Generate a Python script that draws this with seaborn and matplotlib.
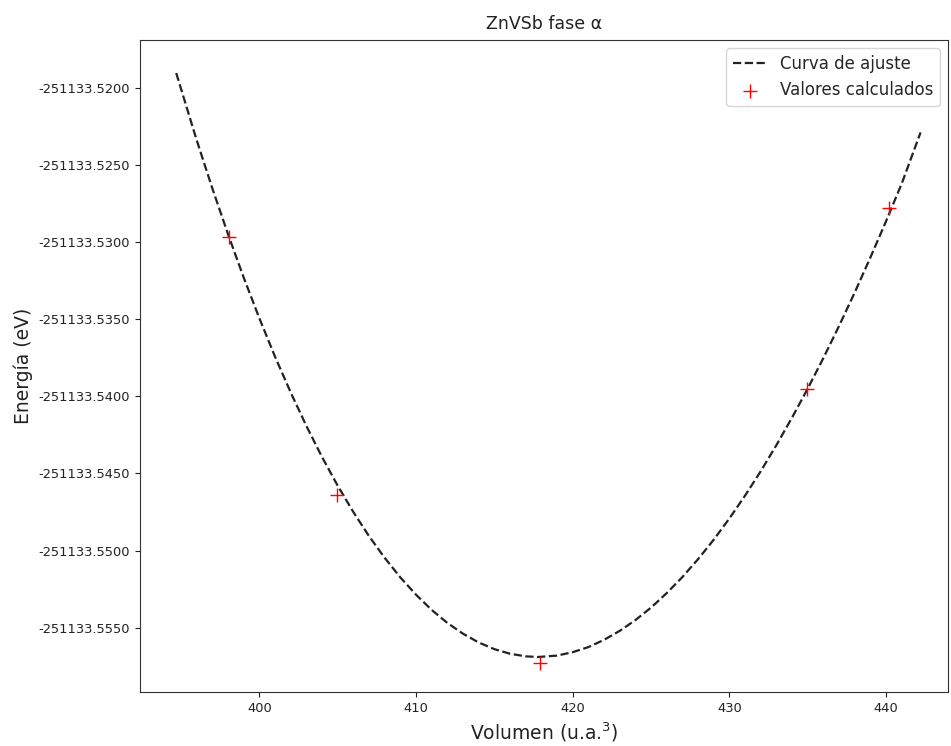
import matplotlib
matplotlib.use("Agg")
import matplotlib.pyplot as plt
import matplotlib.ticker as mticker
import pandas as pd
import numpy as np
import seaborn as sns

# valores calculados (puntos rojos)
vol_calc = [398.07, 404.96, 417.91, 434.95, 440.19]
ener_calc = [-251133.5297, -251133.5464, -251133.5573, -251133.5395, -251133.5278]

# curva de ajuste
vol_fit = [394.7, 396, 397, 398, 399, 400, 401, 402, 403, 404, 405, 406, 407, 408,
           409, 410, 411, 412, 413, 414, 415, 416, 417, 417.8, 419, 420, 421, 422,
           423, 424, 425, 426, 427, 428, 429, 430, 431, 432, 433, 434, 435, 436,
           437, 438, 439, 440, 441, 442.2]
ener_fit = [-251133.51905, -251133.52338, -251133.52651, -251133.52948, -251133.53229,
            -251133.53493, -251133.53742, -251133.53974, -251133.54191, -251133.54393,
            -251133.54579, -251133.54750, -251133.54906, -251133.55047, -251133.55174,
            -251133.55286, -251133.55385, -251133.55469, -251133.55539, -251133.55596,
            -251133.55639, -251133.55669, -251133.55686, -251133.55690, -251133.55681,
            -251133.55659, -251133.55626, -251133.55579, -251133.55521, -251133.55451,
            -251133.55370, -251133.55276, -251133.55172, -251133.55056, -251133.54930,
            -251133.54792, -251133.54644, -251133.54486, -251133.54317, -251133.54138,
            -251133.53950, -251133.53752, -251133.53544, -251133.53327, -251133.53100,
            -251133.52865, -251133.52621, -251133.52290]

fit = pd.DataFrame({"V": vol_fit, "E": ener_fit})
calc = pd.DataFrame({"V": vol_calc, "E": ener_calc})

sns.set_style("ticks")
plt.rcParams["axes.unicode_minus"] = False
plt.rcParams["font.family"] = ["DejaVu Sans"]

fig = plt.figure(figsize=(9.51, 7.46), dpi=100)
ax = fig.add_axes([140 / 951, 1 - 692 / 746, 808 / 951, 652 / 746])

sns.lineplot(data=fit, x="V", y="E", ax=ax, color="#222222", linestyle="--",
             linewidth=1.6, label="Curva de ajuste", sort=False)
sns.scatterplot(data=calc, x="V", y="E", ax=ax, color="red", marker="+",
                s=105, linewidth=1.0, label="Valores calculados", zorder=3)

ax.set_xlim(392.39, 443.95)
ax.set_ylim(-251133.55917, -251133.51691)
ax.xaxis.set_major_locator(mticker.MultipleLocator(10))
ax.yaxis.set_major_locator(mticker.MultipleLocator(0.005))
ax.yaxis.set_major_formatter(mticker.FormatStrFormatter("%.4f"))
ax.tick_params(labelsize=9.4, colors="#222222", labelcolor="#222222")
for s in ax.spines.values():
    s.set_color("#333333")

ax.set_xlabel("Volumen (u.a.$^3$)", fontsize=13.5, color="#222222")
ax.set_ylabel("Energía (eV)", fontsize=13.5, color="#222222")
ax.set_title("ZnVSb fase α", fontsize=12.5, color="#222222", pad=8)
ax.legend(loc="upper right", fontsize=12)

fig.savefig("out.png", dpi=100)
